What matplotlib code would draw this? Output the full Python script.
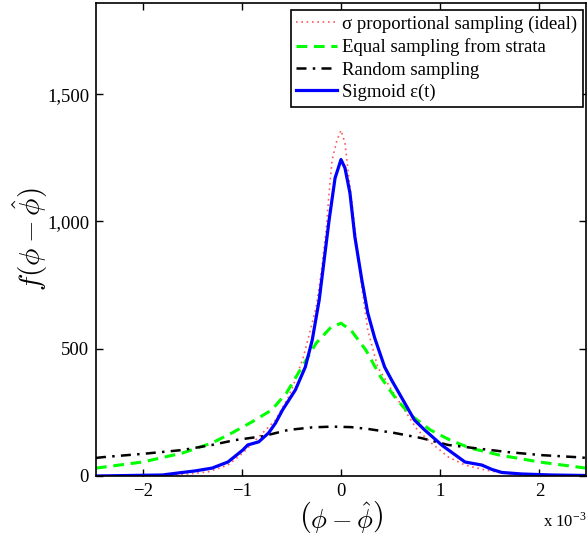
import matplotlib
matplotlib.use("Agg")
import matplotlib.pyplot as plt
from matplotlib.ticker import FuncFormatter

plt.rcParams['font.family'] = ['Liberation Serif', 'DejaVu Serif']
plt.rcParams['mathtext.fontset'] = 'cm'

# x in units of 1e-3
ideal_x = [-2.47, -1.8, -1.54, -1.34, -1.14, -0.99, -0.89, -0.79, -0.66, -0.53, -0.46, -0.38, -0.32,
           -0.25, -0.20, -0.15, -0.12, -0.09, -0.04, 0.0, 0.04, 0.07, 0.11, 0.16, 0.21, 0.27, 0.37,
           0.51, 0.64, 0.77, 0.91, 1.08, 1.25, 1.45, 1.62, 1.85, 2.47]
ideal_y = [0, 2, 8, 16, 43, 90, 130, 169, 220, 310, 377, 467, 556,
           664, 797, 966, 1112, 1241, 1320, 1358, 1308, 1202, 1072, 900, 742, 573, 428,
           338, 259, 181, 130, 75, 43, 24, 12, 2, 0]

strata_x = [-2.47, -2.0, -1.6, -1.3, -1.1, -0.9, -0.7, -0.55, -0.4, -0.25, -0.1, 0.0,
            0.1, 0.25, 0.4, 0.55, 0.7, 0.9, 1.1, 1.3, 1.6, 2.0, 2.47]
strata_y = [31, 55, 90, 130, 169, 212, 259, 326, 424, 522, 585, 600,
            573, 495, 389, 306, 240, 181, 141, 110, 82, 55, 31]

random_x = [-2.47, -2.40, -1.97, -1.60, -1.30, -1.07, -0.79, -0.53, -0.29, -0.09, 0.1, 0.27, 0.54, 0.81,
            1.08, 1.38, 1.68, 2.02, 2.42, 2.47]
random_y = [71, 74, 88, 102, 122, 141, 156, 181, 191, 194, 192, 185, 169, 149,
            122, 108, 94, 82, 73, 71]

sigmoid_x = [-2.47, -1.80, -1.64, -1.47, -1.30, -1.14, -0.99, -0.94, -0.83, -0.73, -0.66, -0.59,
             -0.46, -0.36, -0.29, -0.22, -0.17, -0.12, -0.06, 0.0, 0.04, 0.09, 0.14, 0.21, 0.27,
             0.34, 0.44, 0.51, 0.74, 0.84, 1.02, 1.25, 1.42, 1.52, 1.62, 1.82, 2.12, 2.47]
sigmoid_y = [0, 4, 12, 20, 31, 55, 102, 122, 134, 169, 208, 259,
             338, 428, 534, 691, 848, 1005, 1170, 1243, 1210, 1112, 939, 770, 640,
             542, 428, 377, 220, 182, 120, 55, 43, 26, 14, 8, 4, 2]

labels = ['\u03c3 proportional sampling (ideal)', 'Equal sampling from strata',
          'Random sampling', 'Sigmoid \u03b5(t)']

fig = plt.figure(figsize=(5.87, 5.35), dpi=100)
ax = fig.add_axes([96/587, 59/535, 490/587, 473/535])

ax.plot(ideal_x, ideal_y, color='#ff5a5a', linestyle=(0, (1, 2.2)), linewidth=1.2, label=labels[0])
ax.plot(strata_x, strata_y, color='#00ff00', linestyle=(0, (3.5, 2.2)), linewidth=2.2, label=labels[1])
ax.plot(random_x, random_y, color='black', linestyle=(0, (4, 2.5, 1, 2.5)), linewidth=1.8, label=labels[2])
ax.plot(sigmoid_x, sigmoid_y, color='#0000ff', linestyle='-', linewidth=2.3, label=labels[3])

ax.set_xlim(-2.47, 2.47)
ax.set_ylim(0, 1858)
ax.set_xticks([-2, -1, 0, 1, 2])
ax.set_yticks([0, 500, 1000, 1500])
ax.xaxis.set_major_formatter(FuncFormatter(lambda v, p: f"{int(round(v))}".replace('-', '\u2212')))
ax.yaxis.set_major_formatter(FuncFormatter(lambda v, p: f"{int(v):,}"))
ax.tick_params(direction='in', top=True, right=True, length=5, width=1, labelsize=13.5, pad=5)
for s in ax.spines.values():
    s.set_linewidth(1.2)

ax.set_xlabel(r'$\left(\phi - \hat{\phi}\right)$', fontsize=19, labelpad=-1)
ax.set_ylabel(r'$f(\phi - \hat{\phi})$', fontsize=21, labelpad=-2)
fig.text(543/587, 1 - 521/535, 'x 10$^{\\mathregular{-3}}$', fontsize=12, va='center', ha='left')

leg = ax.legend(loc='upper right', bbox_to_anchor=(0.994, 0.985), fontsize=13.5, frameon=True,
                fancybox=False, edgecolor='black', framealpha=1, borderpad=0.3, labelspacing=0.28,
                handlelength=2.15, handletextpad=0.3, borderaxespad=0)
leg.get_frame().set_linewidth(1.2)

fig.savefig('out.png', dpi=100)
